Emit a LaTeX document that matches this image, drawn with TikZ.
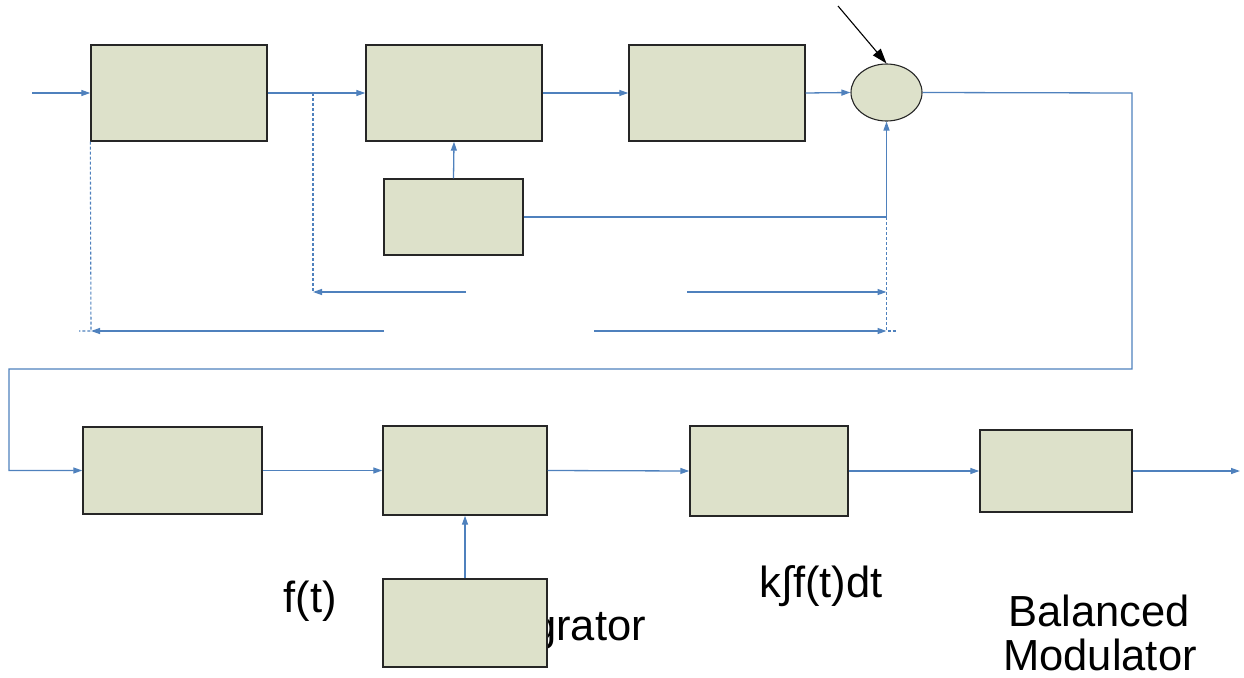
\documentclass[tikz,border=0pt]{standalone}
\usepackage{fontspec}
\setmainfont{Liberation Sans}
\usetikzlibrary{arrows.meta,shapes.geometric}
\definecolor{lineblue}{HTML}{4F81BD}
\definecolor{boxfill}{HTML}{DDE1CA}
\begin{document}
\begin{tikzpicture}[x=1pt,y=-1pt,
  blk/.style={draw=black!85,line width=1.4pt,fill=boxfill,rectangle,inner sep=0pt},
  sig/.style={draw=lineblue,line width=1.3pt,-{Triangle[length=9pt,width=6pt]}},
  wire/.style={draw=lineblue,line width=1.3pt},
  dsh/.style={draw=lineblue,line width=1.1pt,dash pattern=on 3pt off 2pt},
  lbl/.style={font=\fontsize{43.5}{47}\selectfont,inner sep=0pt}]
\useasboundingbox (0,0) rectangle (1244,677);
% labels (drawn first so boxes can cover them)
\node[lbl,anchor=base east] (tint) at (646,640) {Integrator};
\node[lbl,anchor=base] (tft) at (310,612) {f(t)};
\node[lbl,anchor=base] (tkf) at (821,597) {k∫f(t)dt};
\node[lbl,anchor=base] (tbal) at (1099,626) {Balanced};
\node[lbl,anchor=base,text depth=0pt] (tmod) at (1100,670) {Modulator};
% blocks
\node[blk,minimum width=176pt,minimum height=96pt] (b1) at (179,93) {};
\node[blk,minimum width=176pt,minimum height=96pt] (b2) at (454,93) {};
\node[blk,minimum width=176pt,minimum height=96pt] (b3) at (717,93) {};
\node[blk,ellipse,line width=1.1pt,minimum width=71pt,minimum height=57pt] (ell) at (886.5,92.5) {};
\node[blk,minimum width=139pt,minimum height=76pt] (b4) at (453.5,217) {};
\node[blk,minimum width=179pt,minimum height=87pt] (b5) at (172.5,470.5) {};
\node[blk,minimum width=164pt,minimum height=89pt] (b6) at (465,470.5) {};
\node[blk,minimum width=158pt,minimum height=90pt] (b7) at (769,471) {};
\node[blk,minimum width=152pt,minimum height=82pt] (b8) at (1056,471) {};
\node[blk,minimum width=164pt,minimum height=88pt] (b9) at (465,623) {};
% coordinates
\coordinate (in) at (32,93);
\coordinate (j1) at (313,93);
\coordinate (j1b) at (313,292);
\coordinate (j2) at (886.5,217);
\coordinate (j2b) at (886.5,331);
\coordinate (j2c) at (897,331);
\coordinate (j3b) at (91,331);
\coordinate (j3c) at (79,331);
\coordinate (a1s) at (466,292);
\coordinate (a2s) at (384,331);
\coordinate (a3s) at (687,292);
\coordinate (a3e) at (886.5,292);
\coordinate (a4s) at (594,331);
\coordinate (r1) at (1132,93);
\coordinate (r2) at (1132,369);
\coordinate (r3) at (9,369);
\coordinate (r4) at (9,470.5);
\coordinate (out) at (1240,471);
\coordinate (top) at (838,6);
% top row signals
\draw[sig] (in) -- (b1.west);
\draw[sig] (b1.east) -- (b2.west);
\draw[sig] (b2.east) -- (b3.west);
\draw[sig] (b3.east) -- (ell.west);
\draw[sig] (b4.north) -- (b2.south);
\draw[sig] (b4.east) -| (ell.south);
\draw[draw=black,line width=1.1pt,-{Triangle[length=15pt,width=10pt]}] (top) -- (ell.north);
% dashed guides
\draw[dsh] (j1) -- (j1b);
\draw[dsh] (j2) -- (j2b) -- (j2c);
\draw[dsh] (b1.south west) -- (j3b) -- (j3c);
% horizontal arrows
\draw[sig] (a1s) -- (j1b);
\draw[sig] (a2s) -- (j3b);
\draw[sig] (a3s) -- (a3e);
\draw[sig] (a4s) -- (j2b);
% feedback to bottom row
\draw[sig] (ell.east) -- (r1) -- (r2) -- (r3) -- (r4) -- (b5.west);
% bottom row
\draw[sig] (b5.east) -- (b6.west);
\draw[sig] (b6.east) -- (b7.west);
\draw[sig] (b7.east) -- (b8.west);
\draw[sig] (b8.east) -- (out);
\draw[sig] (b9.north) -- (b6.south);
\end{tikzpicture}
\end{document}
